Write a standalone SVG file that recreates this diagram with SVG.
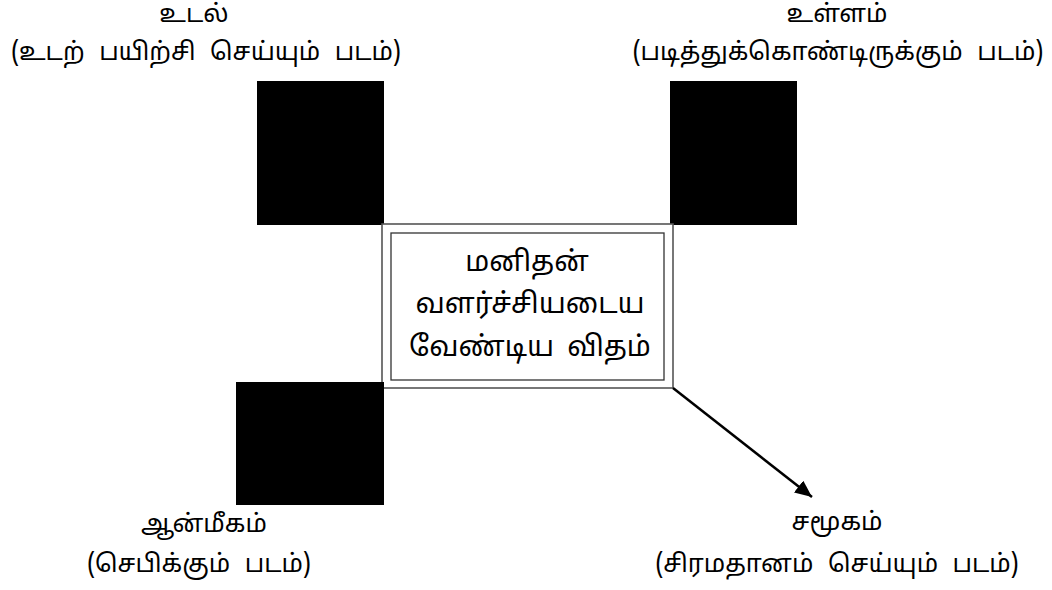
<svg xmlns="http://www.w3.org/2000/svg" width="1052" height="590" viewBox="0 0 1052 590">
<defs>
<style>
text{font-family:"Noto Sans Tamil","Latha","Lohit Tamil","Noto Sans","Liberation Sans",sans-serif;fill:#000;text-anchor:middle;font-size:25px}
.p{word-spacing:8px}
.c{font-size:28px;word-spacing:6px}
.img{fill:#000}
</style>
<marker id="ah" markerWidth="17" markerHeight="15" refX="17" refY="7.5" orient="auto" markerUnits="userSpaceOnUse" viewBox="0 0 17 15">
<path d="M0,0 L17,7.5 L0,15 z" fill="#000"/>
</marker>
</defs>
<rect width="1052" height="590" fill="#fff"/>
<g id="node-udal">
<text x="194" y="22">உடல்</text>
<text class="p" x="206" y="60">(உடற் பயிற்சி செய்யும் படம்)</text>
<rect class="img" x="257" y="81" width="127" height="144"/>
</g>
<g id="node-ullam">
<text x="837" y="22">உள்ளம்</text>
<text class="p" x="838" y="60">(படித்துக்கொண்டிருக்கும் படம்)</text>
<rect class="img" x="670" y="81" width="127" height="144"/>
</g>
<g id="node-center">
<rect x="382" y="224" width="291" height="164" fill="#fff" stroke="#555" stroke-width="1.6"/>
<rect x="391" y="233" width="273" height="147" fill="none" stroke="#333" stroke-width="1.3"/>
<text class="c" x="527" y="271">மனிதன்</text>
<text class="c" x="530" y="313">வளர்ச்சியடைய</text>
<text class="c" x="530" y="356">வேண்டிய விதம்</text>
</g>
<g id="node-aanmeekam">
<rect class="img" x="236" y="382" width="148" height="123"/>
<text x="204" y="532">ஆன்மீகம்</text>
<text class="p" x="199" y="572">(செபிக்கும் படம்)</text>
</g>
<g id="node-samugam">
<text x="837" y="530">சமூகம்</text>
<text class="p" x="837" y="572">(சிரமதானம் செய்யும் படம்)</text>
</g>
<g id="connectors">
<line x1="673" y1="388" x2="812" y2="497" stroke="#000" stroke-width="2.5" marker-end="url(#ah)"/>
</g>
</svg>
